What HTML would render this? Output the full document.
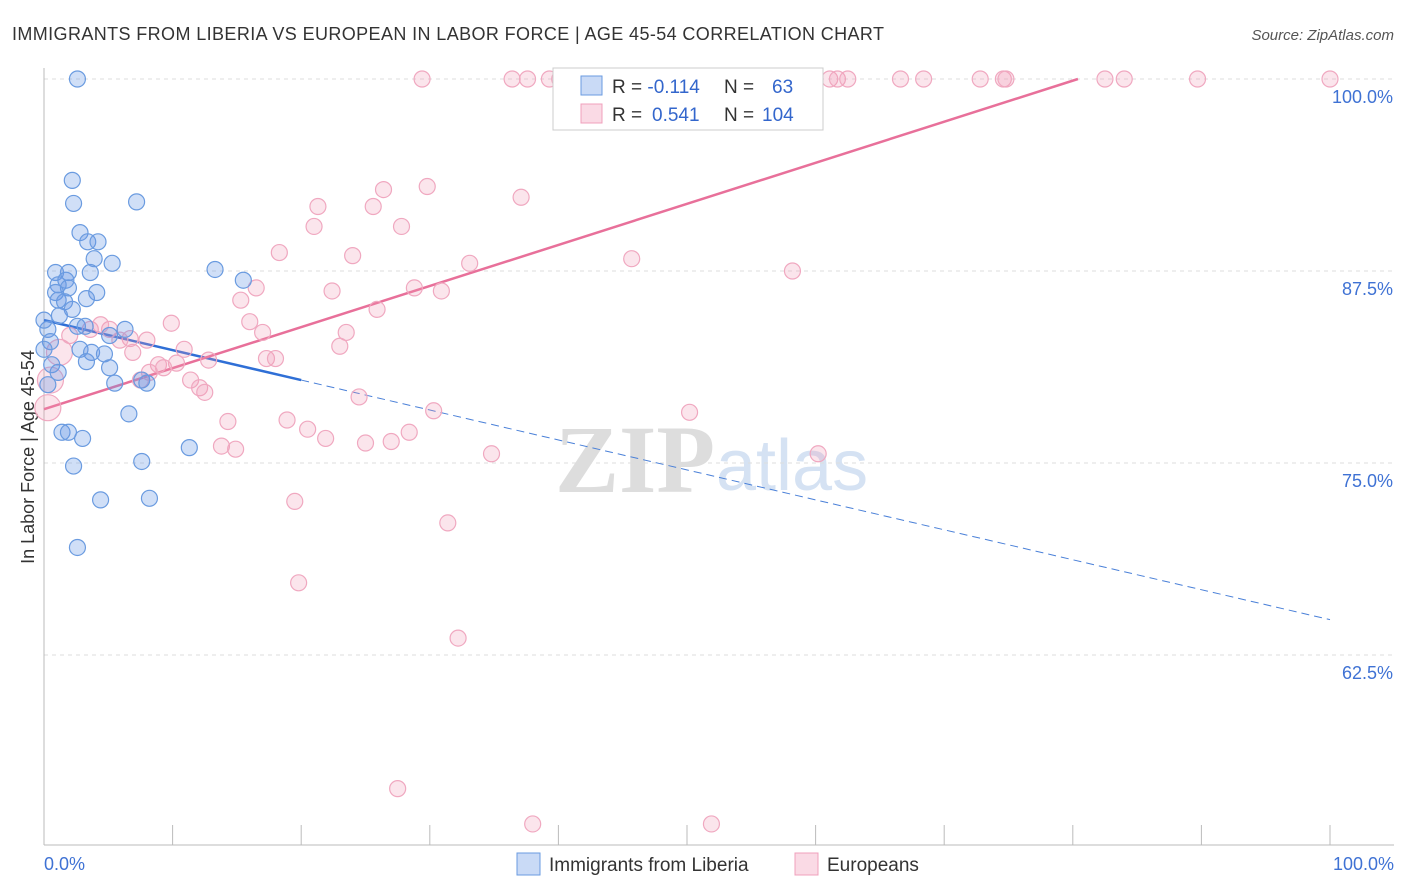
<!DOCTYPE html>
<html><head><meta charset="utf-8">
<style>
body{margin:0;background:#fff;font-family:"Liberation Sans",sans-serif;}
#wrap{position:relative;width:1406px;height:892px;overflow:hidden;}
</style></head><body>
<div id="wrap">
<svg id="svg" width="1406" height="892">
<text x="12" y="40" font-size="18" fill="#333" textLength="872">IMMIGRANTS FROM LIBERIA VS EUROPEAN IN LABOR FORCE | AGE 45-54 CORRELATION CHART</text>
<text x="1394" y="40" font-size="15" fill="#555" font-style="italic" text-anchor="end">Source: ZipAtlas.com</text>
<text transform="translate(34,457) rotate(-90)" font-size="18" fill="#333" text-anchor="middle">In Labor Force | Age 45-54</text>
<text x="555" y="492" font-size="96" fill="#ddd" font-family="Liberation Serif" font-weight="bold">ZIP</text>
<text x="716" y="490" font-size="72" fill="#d5e2f3">atlas</text>
<g id="grid"></g><g id="axes"></g><g id="lines"></g><g id="pts"></g>
<g>
<rect x="553" y="68" width="270" height="62" fill="#fff" stroke="#ccc"/>
<rect x="581" y="76" width="21" height="19" fill="rgba(100,150,230,0.35)" stroke="#6a9be0"/>
<rect x="581" y="104" width="21" height="19" fill="rgba(240,150,180,0.35)" stroke="#f0a0bc"/>
<text x="612" y="93" font-size="19" fill="#333">R = <tspan fill="#3366cc">-0.114</tspan><tspan x="724">N = </tspan><tspan x="772" fill="#3366cc">63</tspan></text>
<text x="612" y="121" font-size="19" fill="#333">R = <tspan x="652" fill="#3366cc">0.541</tspan><tspan x="724">N = </tspan><tspan x="762" fill="#3366cc">104</tspan></text>
</g>
<g>
<rect x="517" y="853" width="23" height="22" fill="rgba(100,150,230,0.35)" stroke="#6a9be0"/>
<text x="549" y="871" font-size="19" fill="#333">Immigrants from Liberia</text>
<rect x="795" y="853" width="23" height="22" fill="rgba(240,150,180,0.35)" stroke="#f0a0bc"/>
<text x="827" y="871" font-size="19" fill="#333">Europeans</text>
</g>
</svg>
</div>
<script>
const yTicks=[100,87.5,75,62.5];
const yTickLabels=["100.0%","87.5%","75.0%","62.5%"];
const xEndLabels=["0.0%","100.0%"];
const blueX=[2.6,2.2,2.3,7.2,2.8,3.4,4.2,3.9,5.3,0.9,1.9,1.7,3.6,1.1,1.9,0.9,4.1,1.1,3.3,1.6,2.2,1.2,0.3,0.5,2.6,3.2,6.3,5.1,0,2.8,3.7,4.7,0.6,3.3,5.1,1.1,5.5,7.6,8.0,6.6,1.4,1.9,3.0,2.3,7.6,11.3,4.4,8.2,2.6,13.3,15.5,0.3,0];
const blueY=[100,93.4,91.9,92.0,90.0,89.4,89.4,88.3,88.0,87.4,87.4,86.9,87.4,86.6,86.4,86.1,86.1,85.6,85.7,85.5,85.0,84.6,83.7,82.9,83.9,83.9,83.7,83.3,82.4,82.4,82.2,82.1,81.4,81.6,81.2,80.9,80.2,80.4,80.2,78.2,77.0,77.0,76.6,74.8,75.1,76.0,72.6,72.7,69.5,87.6,86.9,80.1,84.3];
const pinkX=[29.4,36.4,37.6,39.3,40.1,41.5,47.1,50.2,52.6,56.3,61.1,61.7,62.5,66.6,68.4,72.8,74.6,74.8,82.5,84.0,89.7,100,
29.8,26.4,37.1,25.6,21.3,21.0,27.8,18.3,24.0,45.7,33.1,58.2,16.5,22.4,28.8,30.9,15.3,25.9,9.9,16.0,17.0,23.5,5.1,6.7,5.9,8.0,23.0,10.9,6.9,12.8,17.3,18.0,8.9,10.3,9.3,8.2,11.4,7.5,12.1,12.5,24.5,30.3,50.2,14.3,18.9,20.5,21.9,25.0,27.0,28.4,34.8,60.2,13.8,14.9,19.5,31.4,19.8,32.2,27.5,38.0,51.9,1.2,0.5,0.3,3.6,4.4,2.0];
const pinkY=[100,100,100,100,100,100,100,100,100,100,100,100,100,100,100,100,100,100,100,100,100,100,
93.0,92.8,92.3,91.7,91.7,90.4,90.4,88.7,88.5,88.3,88.0,87.5,86.4,86.2,86.4,86.2,85.6,85.0,84.1,84.2,83.5,83.5,83.7,83.1,83.0,83.0,82.6,82.4,82.2,81.7,81.8,81.8,81.4,81.5,81.2,80.9,80.4,80.4,79.9,79.6,79.3,78.4,78.3,77.7,77.8,77.2,76.6,76.3,76.4,77.0,75.6,75.6,76.1,75.9,72.5,71.1,67.2,63.6,53.8,51.5,51.5,82.2,80.4,78.6,83.7,84.0,83.3];
const blueTrend=[[0,84.3],[20,80.4],[100,64.8]];
const pinkTrend=[[0,78.5],[80.4,100]];

const NS="http://www.w3.org/2000/svg";
const X=v=>44+v*12.86;
const Y=v=>79+(100-v)*15.36;
function mk(tag,attrs,parent){const e=document.createElementNS(NS,tag);for(const k in attrs)e.setAttribute(k,attrs[k]);document.getElementById(parent).appendChild(e);return e;}
yTicks.forEach((t,i)=>{
 const l=mk('line',{x1:44,x2:1394,y1:Y(t),y2:Y(t),stroke:'#ddd','stroke-dasharray':'4,4'},'grid');
 
 
 const tx=mk('text',{x:1393,y:Y(t)+24,'font-size':18,fill:'#3f72d4','text-anchor':'end'},'axes');
 tx.textContent=yTickLabels[i];
 
 
});
const ax=mk('line',{x1:44,x2:1394,y1:845,y2:845,stroke:'#bbb'},'axes');


const ay=mk('line',{x1:44,x2:44,y1:68,y2:845,stroke:'#bbb'},'axes');


for(let i=0;i<=10;i++){
 const t=mk('line',{x1:X(i*10),x2:X(i*10),y1:825,y2:845,stroke:'#bbb'},'axes');
 
 
}
[[0,'start',xEndLabels[0],44],[100,'end',xEndLabels[1],1394]].forEach(a=>{
 const t=mk('text',{x:a[3],y:870,'font-size':18,fill:'#3f72d4','text-anchor':a[1]},'axes');
 t.textContent=a[2];
 
 
});
pinkX.forEach((x,i)=>{
 const r=(x<2)?13:8;
 const c=mk('circle',{cx:X(x),cy:Y(pinkY[i]),r:r,fill:'rgba(240,150,180,0.25)',stroke:'#f0a8c0','stroke-width':1.2},'pts');
 
 
});
blueX.forEach((x,i)=>{
 const c=mk('circle',{cx:X(x),cy:Y(blueY[i]),r:8,fill:'rgba(100,150,230,0.3)',stroke:'#6a9be0','stroke-width':1.2},'pts');
 
 
});
const b1=mk('line',{x1:X(blueTrend[0][0]),y1:Y(blueTrend[0][1]),x2:X(blueTrend[1][0]),y2:Y(blueTrend[1][1]),stroke:'#2f6fd6','stroke-width':2.5},'lines');


const b2=mk('line',{x1:X(blueTrend[1][0]),y1:Y(blueTrend[1][1]),x2:X(blueTrend[2][0]),y2:Y(blueTrend[2][1]),stroke:'#4a80d8','stroke-width':1,'stroke-dasharray':'8,5'},'lines');


const p1=mk('line',{x1:X(pinkTrend[0][0]),y1:Y(pinkTrend[0][1]),x2:X(pinkTrend[1][0]),y2:Y(pinkTrend[1][1]),stroke:'#e8709a','stroke-width':2.5},'lines');


</script>
</body></html>
